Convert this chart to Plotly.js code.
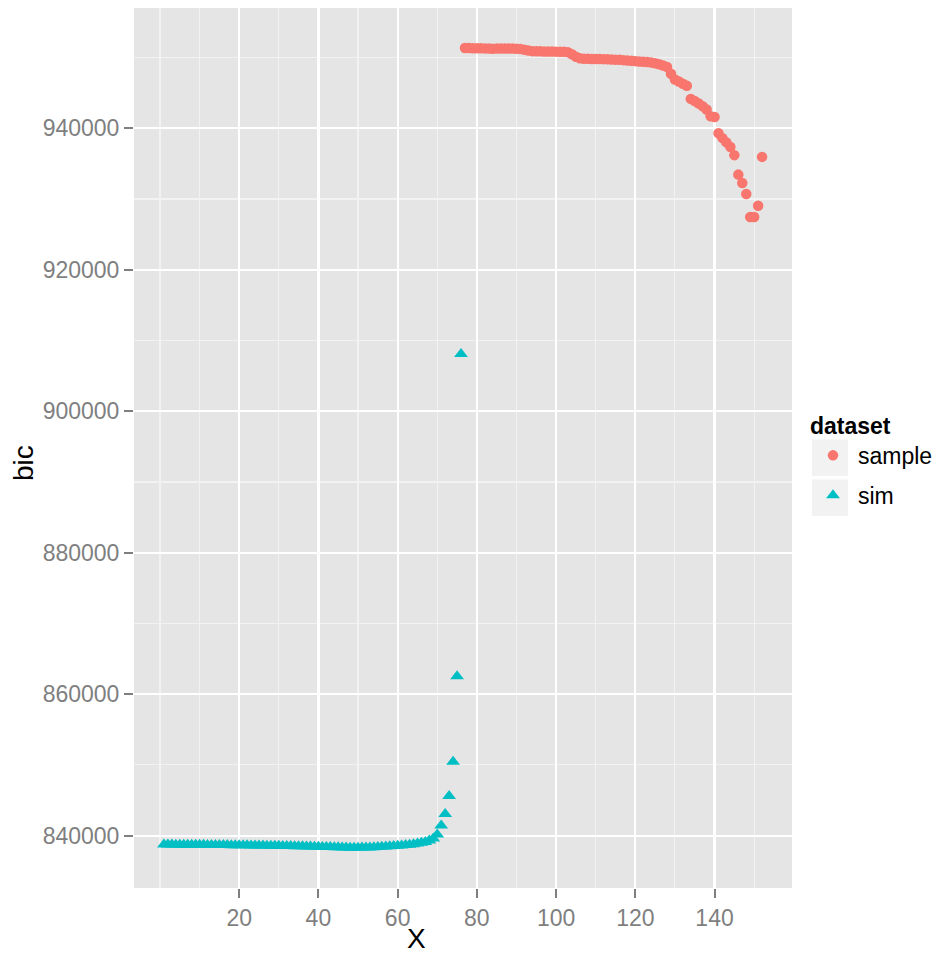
<!DOCTYPE html>
<html><head><meta charset="utf-8">
<script src="https://cdn.plot.ly/plotly-3.0.1.min.js"></script>
<style>html,body{margin:0;padding:0;background:#fff}#chart{width:940px;height:955px}</style>
</head><body><div id="chart"></div><script>
// ---- data ----
const simX = [1,2,3,4,5,6,7,8,9,10,11,12,13,14,15,16,17,18,19,20,21,22,23,24,25,26,27,28,29,30,31,32,33,34,35,36,37,38,39,40,41,42,43,44,45,46,47,48,49,50,51,52,53,54,55,56,57,58,59,60,61,62,63,64,65,66,67,68,69,70,71,72,73,74,75,76];
const simBic = [838740,838738,838733,838730,838726,838722,838716,838712,838707,838702,
  838698,838692,838687,838680,838674,838668,838662,838655,838648,838641,
  838634,838626,838619,838611,838602,838594,838585,838576,838567,838557,
  838547,838537,838526,838515,838504,838490,838475,838460,838444,838428,
  838412,838396,838380,838364,838348,838332,838318,838306,838300,838302,
  838310,838322,838338,838360,838385,838415,838450,838488,838528,838572,
  838620,838672,838730,838800,838885,838985,839115,839300,839600,840150,
  841450,843050,845600,850450,862550,908100];
const sampleX = [77,78,79,80,81,82,83,84,85,86,87,88,89,90,91,92,93,94,95,96,97,98,99,100,101,102,103,104,105,106,107,108,109,110,111,112,113,114,115,116,117,118,119,120,121,122,123,124,125,126,127,128,129,130,131,132,133,134,135,136,137,138,139,140,141,142,143,144,145,146,147,148,149,150,151,152];
const sampleBic = [951350,951330,951320,951310,951300,951290,951280,951230,951260,951280,
  951280,951270,951260,951250,951220,951100,950980,950900,950880,950870,
  950860,950850,950840,950830,950820,950800,950760,950450,950100,949880,
  949830,949810,949800,949790,949780,949770,949750,949730,949700,949670,
  949630,949590,949540,949490,949440,949400,949350,949280,949180,949050,
  948880,948650,947700,946900,946600,946300,946000,944150,943850,943500,
  943100,942650,941700,941600,939300,938600,938000,937350,936200,933450,
  932250,930700,927450,927450,929050,935950];
const xTickVals = [20,40,60,80,100,120,140];
const xTickLabels = ['20','40','60','80','100','120','140'];
const xMinorVals = [0,10,30,50,70,90,110,130,150];
const yTickVals = [840000,860000,880000,900000,920000,940000];
const yTickLabels = ['840000','860000','880000','900000','920000','940000'];
const yMinorVals = [850000,870000,890000,910000,930000,950000];
const seriesNames = ['sample','sim'];
const seriesColors = ['#F8766D','#00BFC4'];

// ---- layout helpers ----
const W = 940, H = 955;
const L = 134, R = 792, T = 8, B = 888;
const px2xp = p => (p - L) / (R - L);
const py2yp = p => (B - p) / (B - T);
const FONT = 'Liberation Sans, Arial, Helvetica, sans-serif';
const GREY = '#7F7F7F';

const traces = [
  {x: sampleX, y: sampleBic, name: seriesNames[0], type: 'scatter', mode: 'markers',
   legendgroup: 'a', marker: {symbol: 'circle', size: 10.5, color: seriesColors[0]}},
  {x: simX, y: simBic, name: seriesNames[1], type: 'scatter', mode: 'markers',
   legendgroup: 'b', marker: {symbol: 'triangle-up', size: 12, color: seriesColors[1]}}
];

const layout = {
  width: W, height: H,
  margin: {l: L, r: W - R, t: T, b: H - B, autoexpand: false},
  paper_bgcolor: '#FFFFFF', plot_bgcolor: '#E5E5E5',
  font: {family: FONT, size: 23, color: '#000'},
  showlegend: true,
  xaxis: {
    range: [-6.55, 159.55], tickmode: 'array', tickvals: xTickVals, ticktext: xTickLabels,
    ticks: 'outside', ticklen: 9, tickwidth: 2, tickcolor: GREY,
    tickfont: {family: FONT, size: 23, color: GREY},
    showgrid: true, gridcolor: '#FFFFFF', gridwidth: 2.2, zeroline: false, showline: false,
    minor: {tickmode: 'array', tickvals: xMinorVals, showgrid: true, gridcolor: '#F2F2F2', gridwidth: 1.1, ticks: ''}
  },
  yaxis: {
    range: [832600, 957000], tickmode: 'array', tickvals: yTickVals, ticktext: yTickLabels,
    ticks: 'outside', ticklen: 9, tickwidth: 2, tickcolor: GREY,
    tickfont: {family: FONT, size: 23, color: GREY},
    showgrid: true, gridcolor: '#FFFFFF', gridwidth: 2.2, zeroline: false, showline: false,
    minor: {tickmode: 'array', tickvals: yMinorVals, showgrid: true, gridcolor: '#F2F2F2', gridwidth: 1.1, ticks: ''}
  },
  legend: {
    x: px2xp(808), xanchor: 'left', y: py2yp(404), yanchor: 'top',
    title: {text: '<b>dataset</b>', font: {family: FONT, size: 23, color: '#000'}},
    font: {family: FONT, size: 23, color: '#000'},
    itemwidth: 40, tracegroupgap: 7, traceorder: 'grouped',
    bgcolor: 'rgba(0,0,0,0)', borderwidth: 0
  },
  shapes: [
    {type: 'rect', xref: 'paper', yref: 'paper', x0: px2xp(812), x1: px2xp(848), y0: py2yp(476), y1: py2yp(439.5),
     fillcolor: '#F2F2F2', line: {width: 0}, layer: 'below'},
    {type: 'rect', xref: 'paper', yref: 'paper', x0: px2xp(812), x1: px2xp(848), y0: py2yp(516), y1: py2yp(479.5),
     fillcolor: '#F2F2F2', line: {width: 0}, layer: 'below'}
  ],
  annotations: [
    {text: 'X', xref: 'paper', yref: 'paper', x: px2xp(416), y: py2yp(938), xanchor: 'center', yanchor: 'middle',
     showarrow: false, font: {family: FONT, size: 28, color: '#000'}},
    {text: 'bic', xref: 'paper', yref: 'paper', x: px2xp(23), y: py2yp(463), xanchor: 'center', yanchor: 'middle',
     textangle: -90, showarrow: false, font: {family: FONT, size: 28, color: '#000'}}
  ]
};

Plotly.newPlot('chart', traces, layout, {displayModeBar: false, staticPlot: true});
</script></body></html>
